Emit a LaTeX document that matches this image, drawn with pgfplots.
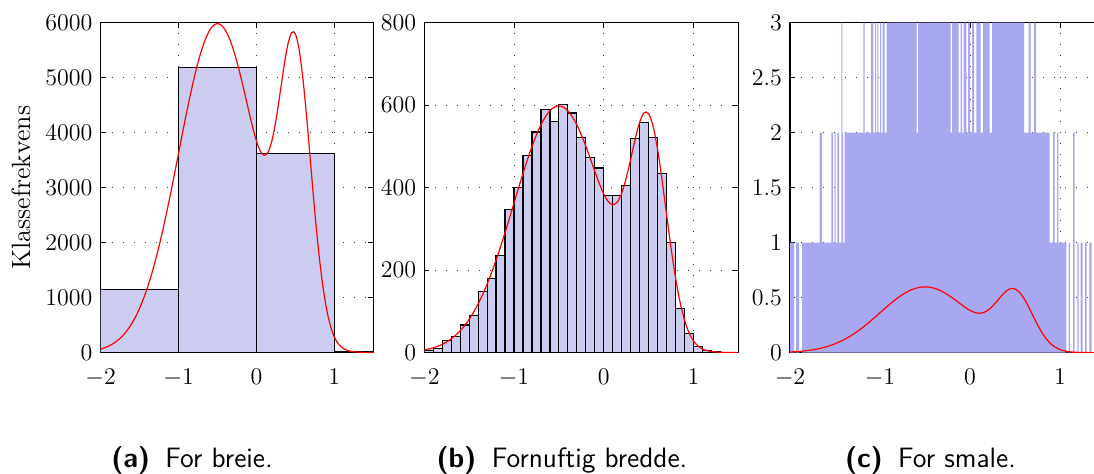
\documentclass[border=0pt]{standalone}
\usepackage{pgfplots}
\pgfplotsset{compat=1.18}
\usepackage{pgfplotstable}

\definecolor{barfill}{RGB}{204,204,240}
\definecolor{finefill}{RGB}{168,168,240}

% Mixture density f(x) and the expected counts for 10000 samples:
% a = bin width 1, b = bin width 0.1, c = bin width 0.0001
\pgfplotstableread{
x      a       b       c
-2.00  66.5    6.65    0.00665
-1.95  89.3    8.93    0.00893
-1.90  118.7   11.87   0.01187
-1.85  156.3   15.63   0.01563
-1.80  203.7   20.37   0.02037
-1.75  262.9   26.29   0.02629
-1.70  335.9   33.59   0.03359
-1.65  424.9   42.49   0.04249
-1.60  532.1   53.21   0.05321
-1.55  659.7   65.97   0.06597
-1.50  809.9   80.99   0.08099
-1.45  984.2   98.42   0.09842
-1.40  1184.2  118.42  0.11842
-1.35  1410.7  141.07  0.14107
-1.30  1663.8  166.38  0.16638
-1.25  1942.7  194.27  0.19427
-1.20  2245.9  224.59  0.22459
-1.15  2570.5  257.05  0.25705
-1.10  2912.7  291.27  0.29127
-1.05  3267.7  326.77  0.32677
-1.00  3629.5  362.95  0.36295
-0.95  3991.2  399.12  0.39912
-0.90  4345.3  434.53  0.43453
-0.85  4683.7  468.37  0.46837
-0.80  4998.3  499.83  0.49983
-0.75  5280.9  528.09  0.52809
-0.70  5523.9  552.39  0.55239
-0.65  5720.7  572.07  0.57207
-0.60  5865.5  586.55  0.58655
-0.55  5954.2  595.42  0.59542
-0.50  5984.0  598.40  0.59840
-0.45  5954.2  595.42  0.59542
-0.40  5865.5  586.55  0.58655
-0.35  5721.3  572.13  0.57213
-0.30  5525.6  552.56  0.55256
-0.25  5285.3  528.53  0.52853
-0.20  5009.2  500.92  0.50092
-0.15  4709.1  470.91  0.47091
-0.10  4400.7  440.07  0.44007
-0.05  4104.9  410.49  0.41049
0.00   3848.6  384.86  0.38486
0.05   3664.5  366.45  0.36645
0.10   3587.6  358.76  0.35876
0.15   3649.0  364.90  0.36490
0.20   3864.9  386.49  0.38649
0.25   4225.9  422.59  0.42259
0.30   4688.6  468.86  0.46886
0.35   5175.1  517.51  0.51751
0.40   5585.2  558.52  0.55852
0.45   5817.8  581.78  0.58178
0.50   5796.9  579.69  0.57969
0.55   5493.3  549.33  0.54933
0.60   4933.1  493.31  0.49331
0.65   4189.3  418.93  0.41893
0.70   3360.7  336.07  0.33607
0.75   2546.1  254.61  0.25461
0.80   1822.7  182.27  0.18227
0.85   1234.8  123.48  0.12348
0.90   793.6   79.36   0.07936
0.95   486.1   48.61   0.04861
1.00   285.6   28.56   0.02856
1.05   162.7   16.27   0.01627
1.10   91.2    9.12    0.00912
1.15   51.2    5.12    0.00512
1.20   29.4    2.94    0.00294
1.25   17.5    1.75    0.00175
1.30   10.9    1.09    0.00109
1.35   7.0     0.70    0.00070
1.40   4.6     0.46    0.00046
1.45   3.0     0.30    0.00030
1.50   2.0     0.20    0.00020
}\density

% Counts in bins of width 0.1 (left edges)
\pgfplotstableread{
x     n
-2.0  5
-1.9  10
-1.8  29
-1.7  39
-1.6  67
-1.5  90
-1.4  149
-1.3  180
-1.2  235
-1.1  347
-1.0  400
-0.9  478
-0.8  535
-0.7  589
-0.6  560
-0.5  601
-0.4  581
-0.3  522
-0.2  474
-0.1  448
0.0   381
0.1   381
0.2   406
0.3   520
0.4   558
0.5   522
0.6   435
0.7   267
0.8   108
0.9   47
1.0   16
1.1   5
1.2   2
1.3   1
1.4   0
1.5   0
}\midbins

\pgfplotsset{
  histaxis/.style={
    scale only axis,
    height=165pt,
    xmin=-2, xmax=1.5, ymin=0,
    xtick={-2,-1,0,1},
    grid=major,
    major grid style={black!80, line width=0.5pt, dash pattern=on 0.5pt off 5pt},
    axis line style={line width=0.6pt},
    every tick/.style={black, line width=0.5pt},
    major tick length=2.5pt,
    tick label style={font=\fontsize{11.7}{13}\selectfont, inner sep=1pt},
    xticklabel style={yshift=-6.9pt},
    yticklabel style={xshift=-2.9pt},
    /pgf/number format/1000 sep={},
    scaled y ticks=false,
    axis on top=false,
  },
  densline/.style={red, line width=0.6pt, smooth},
}

\begin{document}
\begin{tikzpicture}
\path[use as bounding box] (0pt,0pt) rectangle (547pt,236.5pt);

% (a) too wide bins
\begin{axis}[histaxis,
  at={(50.35pt,60.15pt)}, anchor=south west, width=136.3pt,
  ymax=6000, ytick={0,1000,...,6000},
  ylabel={Klassefrekvens},
  ylabel shift=3pt,
  ylabel style={font=\fontsize{13.2}{15}\selectfont},
]
\addplot[ybar interval, fill=barfill, draw=black, line width=0.6pt]
  coordinates {(-2,1151) (-1,5188) (0,3625) (1,24) (2,24)};
\addplot[densline] table[x=x, y=a] {\density};
\end{axis}

% (b) reasonable bin width
\begin{axis}[histaxis,
  at={(212.15pt,60.15pt)}, anchor=south west, width=157pt,
  ymax=800, ytick={0,200,...,800},
]
\addplot[ybar interval, fill=barfill, draw=black, line width=0.6pt]
  table[x=x, y=n] {\midbins};
\addplot[densline] table[x=x, y=b] {\density};
\end{axis}

% (c) too narrow bins
\begin{axis}[histaxis,
  at={(395pt,60.15pt)}, anchor=south west, width=157.5pt,
  ymax=3, ytick={0,0.5,...,3},
]
\addplot[const plot, fill=finefill, draw=none] coordinates {
  (-2,1) (-1.9556,0) (-1.9333,1) (-1.9,0) (-1.8667,1) (-1.67,2) (-1.6444,1)
  (-1.5411,2) (-1.5222,1) (-1.5033,2) (-1.4922,1) (-1.4744,2) (-1.4556,1)
  (-1.43,3) (-1.4189,2) (-1.4111,1) (-1.3922,2) (-1.1856,3) (-1.17,2)
  (-1.1,3) (-1.0744,2) (-1.0556,3) (-1.0444,2) (-1.03,3) (-1.0189,2)
  (-1.0,3) (-0.9889,2) (-0.97,3) (-0.9478,2) (-0.9256,3) (-0.5922,2)
  (-0.5778,3) (-0.2144,2) (-0.2,3) (-0.1256,2) (-0.1033,3) (-0.0889,2)
  (-0.07,3) (-0.0411,2) (-0.0222,3) (0,2) (0.0222,3) (0.0444,2) (0.07,3)
  (0.1189,2) (0.1444,3) (0.2189,2) (0.2444,3) (0.6,2) (0.6522,3) (0.6744,2)
  (0.7111,3) (0.7333,2) (0.8856,1) (0.9222,2) (0.9411,1) (0.9667,2)
  (0.9811,1) (1.07,0) (1.0944,1) (1.1111,0) (1.1444,2) (1.1611,0)
  (1.1922,1) (1.2078,0) (1.23,1) (1.2522,0) (1.2778,1) (1.2967,0)
  (1.3256,1) (1.3522,0) (1.5,0)
} \closedcycle;
\addplot[densline] table[x=x, y=c] {\density};
\end{axis}

% sub-captions
\begin{scope}[every node/.style={anchor=base, inner sep=0pt,
    font=\sffamily\fontsize{14}{16}\selectfont}]
\node at (96pt,3pt) {\textbf{(a)}\hspace{0.55em}For breie.};
\node at (281pt,3pt) {\textbf{(b)}\hspace{0.55em}Fornuftig bredde.};
\node at (465.25pt,3pt) {\textbf{(c)}\hspace{0.55em}For smale.};
\end{scope}
\end{tikzpicture}
\end{document}
